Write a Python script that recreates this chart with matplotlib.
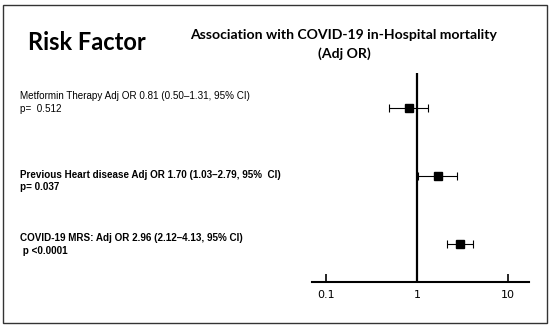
import matplotlib
matplotlib.use("Agg")
import matplotlib.pyplot as plt
from matplotlib.patches import Rectangle

# data
labels = [
    "Metformin Therapy Adj OR 0.81 (0.50\u20131.31, 95% CI)",
    "Previous Heart disease Adj OR 1.70 (1.03\u20132.79, 95%  CI)",
    "COVID-19 MRS: Adj OR 2.96 (2.12\u20134.13, 95% CI)",
]
p_labels = ["p=  0.512", "p= 0.037", " p <0.0001"]
bold_rows = [False, True, True]
odds_ratio = [0.81, 1.70, 2.96]
ci_low = [0.50, 1.03, 2.12]
ci_high = [1.31, 2.79, 4.13]
tick_values = [0.1, 1, 10]
tick_labels = ["0.1", "1", "10"]

W, H = 550, 328
fig = plt.figure(figsize=(W / 100, H / 100), dpi=100)

# outer frame
fig.patches.append(Rectangle((3 / W, 5 / H), 544 / W, 318 / H, transform=fig.transFigure,
                             fill=False, edgecolor="#333333", lw=1.0))

# headers
fig.text(28 / W, 1 - 43 / H, "Risk Factor", fontsize=17, fontweight="bold",
         family="Lato", va="center", ha="left")
fig.text(344 / W, 1 - 35 / H, "Association with COVID-19 in-Hospital mortality",
         fontsize=10.1, fontweight="bold", family="Lato", va="center", ha="center")
fig.text(344 / W, 1 - 54 / H, "(Adj OR)", fontsize=10.1, fontweight="bold",
         family="Lato", va="center", ha="center")

# forest plot axes
ax = fig.add_axes([312 / W, 1 - 282 / H, 217 / W, 209 / H])
rows = [3, 2, 1]
for i, y in enumerate(rows):
    ax.errorbar(odds_ratio[i], y,
                xerr=[[odds_ratio[i] - ci_low[i]], [ci_high[i] - odds_ratio[i]]],
                fmt="s", color="black", ms=5.5, elinewidth=0.8, capsize=3,
                capthick=0.8, zorder=3)
ax.axvline(1, color="black", lw=1.6, zorder=2)
ax.set_xscale("log")
ax.set_xlim(10 ** -1.1505, 10 ** 1.2308)
ax.set_ylim(1 - 38 / 68, 3 + 35 / 68)
ax.set_xticks(tick_values)
ax.set_xticklabels(tick_labels, family="DejaVu Sans", fontsize=8)
ax.minorticks_off()
ax.tick_params(axis="x", direction="in", length=6, width=1.2, pad=6)
ax.set_yticks([])
for s in ["top", "right", "left"]:
    ax.spines[s].set_visible(False)
ax.spines["bottom"].set_linewidth(1.5)
ax.patch.set_alpha(0)

# row labels
label_y = [96, 175, 238]
for i in range(len(labels)):
    w = "bold" if bold_rows[i] else "normal"
    fig.text(20 / W, 1 - label_y[i] / H, labels[i], fontsize=7.15, fontweight=w,
             family="Liberation Sans", va="center", ha="left")
    fig.text(20 / W, 1 - (label_y[i] + 12.5) / H, p_labels[i], fontsize=7.15,
             fontweight=w, family="Liberation Sans", va="center", ha="left")

fig.savefig("out.png", dpi=100)
